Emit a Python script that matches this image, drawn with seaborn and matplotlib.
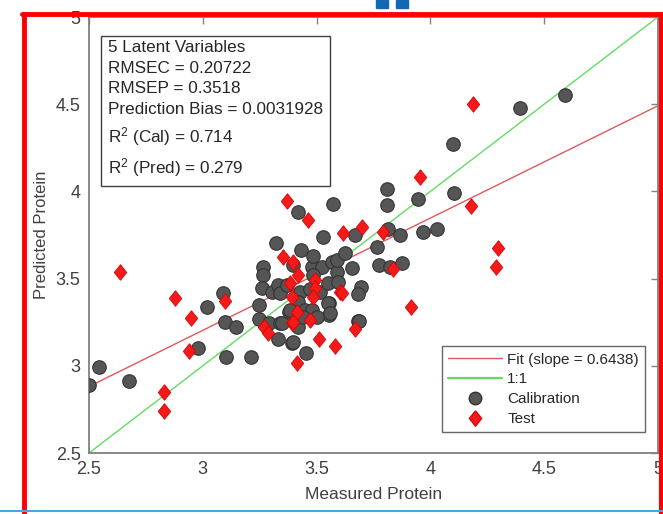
import numpy as np
import pandas as pd
import matplotlib
matplotlib.use("Agg")
import matplotlib.pyplot as plt
from matplotlib.lines import Line2D
from matplotlib.patches import Rectangle
import seaborn as sns

# ---------------- data ----------------
cal_x = [2.50, 2.545, 2.676, 2.98, 3.02, 3.087, 3.096, 3.10, 3.146, 3.21,
         3.248, 3.248, 3.292, 3.332, 3.339, 3.393, 3.452, 3.377, 3.556, 3.556,
         3.68, 3.266, 3.266, 3.259, 3.303, 3.332, 3.337, 3.369, 3.398, 3.427,
         3.42, 3.383, 3.449, 3.42, 3.478, 3.478, 3.522, 3.485, 3.515, 3.566,
         3.588, 3.551, 3.595, 3.551, 3.559, 3.398, 3.347, 3.42, 3.573, 3.529,
         3.322, 3.43, 3.483, 3.588, 3.625, 3.808, 3.808, 3.944, 3.669, 3.815,
         3.866, 3.966, 4.03, 3.764, 3.654, 3.775, 3.822, 3.874, 3.694, 3.683,
         3.686, 4.105, 4.394, 4.591, 4.099, 3.473, 3.44, 3.50]
cal_y = [2.89, 2.995, 2.91, 3.10, 3.335, 3.417, 3.253, 3.05, 3.225, 3.052,
         3.35, 3.267, 3.247, 3.152, 3.244, 3.133, 3.075, 3.31, 3.358, 3.291,
         3.259, 3.568, 3.52, 3.444, 3.425, 3.463, 3.416, 3.463, 3.578, 3.425,
         3.368, 3.32, 3.32, 3.224, 3.32, 3.568, 3.568, 3.52, 3.425, 3.597,
         3.54, 3.473, 3.482, 3.358, 3.30, 3.138, 3.244, 3.88, 3.928, 3.74,
         3.702, 3.664, 3.63, 3.607, 3.645, 4.012, 3.922, 3.955, 3.75, 3.783,
         3.75, 3.769, 3.783, 3.68, 3.56, 3.578, 3.565, 3.588, 3.454, 3.412,
         3.259, 3.989, 4.478, 4.553, 4.27, 3.44, 3.28, 3.28]

test_x = [2.636, 2.878, 2.948, 2.938, 2.83, 2.83, 3.096, 3.269, 3.288, 3.413,
          3.393, 3.471, 3.512, 3.581, 3.669, 3.383, 3.42, 3.39, 3.413, 3.398,
          3.493, 3.493, 3.485, 3.603, 3.371, 3.464, 3.615, 3.351, 3.398, 3.954,
          3.698, 3.793, 3.61, 3.834, 3.913, 4.177, 4.298, 4.287, 4.187]
test_y = [3.535, 3.39, 3.272, 3.087, 2.852, 2.741, 3.373, 3.224, 3.19, 3.018,
          3.244, 3.262, 3.152, 3.114, 3.209, 3.477, 3.52, 3.396, 3.31, 3.253,
          3.492, 3.444, 3.396, 3.425, 3.945, 3.836, 3.76, 3.626, 3.597, 4.084,
          3.798, 3.769, 3.419, 3.553, 3.337, 3.916, 3.674, 3.565, 4.501]

fit_slope = 0.6438
fit_intercept = 1.272
line_x = [2.5, 5.0]

x_ticks = [2.5, 3, 3.5, 4, 4.5, 5]
x_tick_labels = ["2.5", "3", "3.5", "4", "4.5", "5"]
y_ticks = [2.5, 3, 3.5, 4, 4.5, 5]
y_tick_labels = ["2.5", "3", "3.5", "4", "4.5", "5"]

stats_lines = ["5 Latent Variables", "RMSEC = 0.20722", "RMSEP = 0.3518",
               "Prediction Bias = 0.0031928", "R$^2$ (Cal) = 0.714",
               "R$^2$ (Pred) = 0.279"]
legend_labels = ["Fit (slope = 0.6438)", "1:1", "Calibration", "Test"]

# ---------------- style ----------------
sns.set_theme(style="white")
plt.rcParams["font.family"] = ["Liberation Sans", "DejaVu Sans"]
plt.rcParams["mathtext.fontset"] = "custom"
plt.rcParams["mathtext.rm"] = "Liberation Sans"
plt.rcParams["mathtext.it"] = "Liberation Sans:italic"

W, H = 663, 514
fig = plt.figure(figsize=(W / 100, H / 100), dpi=100)
fig.patch.set_facecolor("white")
ax = fig.add_axes([89 / W, 61 / H, 569 / W, 436 / H])

cal = pd.DataFrame({"x": cal_x, "y": cal_y})
tst = pd.DataFrame({"x": test_x, "y": test_y})
lines = pd.DataFrame({
    "x": line_x + line_x,
    "y": [fit_intercept + fit_slope * v for v in line_x] + list(line_x),
    "kind": ["fit", "fit", "one", "one"],
})

diamond = [(0, 1), (0.8, 0), (0, -1), (-0.8, 0), (0, 1)]
cal_face, cal_edge = "#555555", "#333333"
tst_face, tst_edge = "#f21a1a", "#e00000"
fit_color = "#e0585c"
one_color = "#62dd62"

sns.lineplot(data=lines[lines.kind == "fit"], x="x", y="y", color=fit_color,
             lw=1.0, ax=ax, zorder=1)
sns.lineplot(data=lines[lines.kind == "one"], x="x", y="y", color=one_color,
             lw=1.0, ax=ax, zorder=1)
sns.scatterplot(data=cal, x="x", y="y", marker="o", s=95, color=cal_face,
                edgecolor=cal_edge, linewidth=0.8, ax=ax, zorder=3)
sns.scatterplot(data=tst, x="x", y="y", marker=diamond, s=125, color=tst_face,
                edgecolor=tst_edge, linewidth=0.6, ax=ax, zorder=4)

ax.set_xlim(2.5, 5)
ax.set_ylim(2.5, 5)
ax.set_xticks(x_ticks)
ax.set_xticklabels(x_tick_labels)
ax.set_yticks(y_ticks)
ax.set_yticklabels(y_tick_labels)
ax.tick_params(direction="in", top=True, right=True, length=5, width=1,
               color="#808080", labelsize=13, labelcolor="#404040", pad=6)
for s in ax.spines.values():
    s.set_color("#808080")
    s.set_linewidth(1.3)
ax.set_xlabel("Measured Protein", fontsize=12.5, color="#404040", labelpad=6)
ax.set_ylabel("Predicted Protein", fontsize=12, color="#404040", labelpad=5)

# stats box
ax.text(0.0335, 0.947, "\n".join(stats_lines), transform=ax.transAxes,
        ha="left", va="top", fontsize=12.3, color="#262626", linespacing=1.47,
        bbox=dict(boxstyle="square,pad=0.4", facecolor="white",
                  edgecolor="#404040", linewidth=1.0), zorder=6)

handles = [
    Line2D([], [], color=fit_color, lw=1.0),
    Line2D([], [], color=one_color, lw=1.6),
    Line2D([], [], marker="o", ls="none", color=cal_face,
           markeredgecolor=cal_edge, markersize=9),
    Line2D([], [], marker=diamond, ls="none", color=tst_face,
           markeredgecolor=tst_edge, markersize=11),
]
leg = ax.legend(handles, legend_labels, loc="lower right",
                bbox_to_anchor=(0.977, 0.048), fontsize=11, frameon=True,
                fancybox=False, edgecolor="#404040", handlelength=3.5,
                borderpad=0.4, labelspacing=0.38, handletextpad=0.35,
                borderaxespad=0)
leg.get_frame().set_linewidth(1.0)
for t in leg.get_texts():
    t.set_color("#262626")
leg.set_zorder(7)

# page decorations: red frame and blue marks
red = "#ff0000"
fig.add_artist(Line2D([24 / W, 24 / W], [0, 1 - 14 / H], color=red, lw=3.5,
                      transform=fig.transFigure))
fig.add_artist(Line2D([22 / W, 1], [1 - 14 / H, 1 - 14 / H], color=red, lw=3.5,
                      transform=fig.transFigure))
fig.add_artist(Line2D([661 / W, 661 / W], [0, 1 - 14 / H], color=red, lw=3.0,
                      transform=fig.transFigure))
fig.add_artist(Line2D([0, 1], [3 / H, 3 / H], color="#4aa8d8", lw=1.5,
                      transform=fig.transFigure))
for x0 in (376, 396):
    fig.add_artist(Rectangle((x0 / W, 1 - 8 / H), 12 / W, 8 / H,
                             color="#1467b3", transform=fig.transFigure))

fig.savefig("out.png", dpi=100)
